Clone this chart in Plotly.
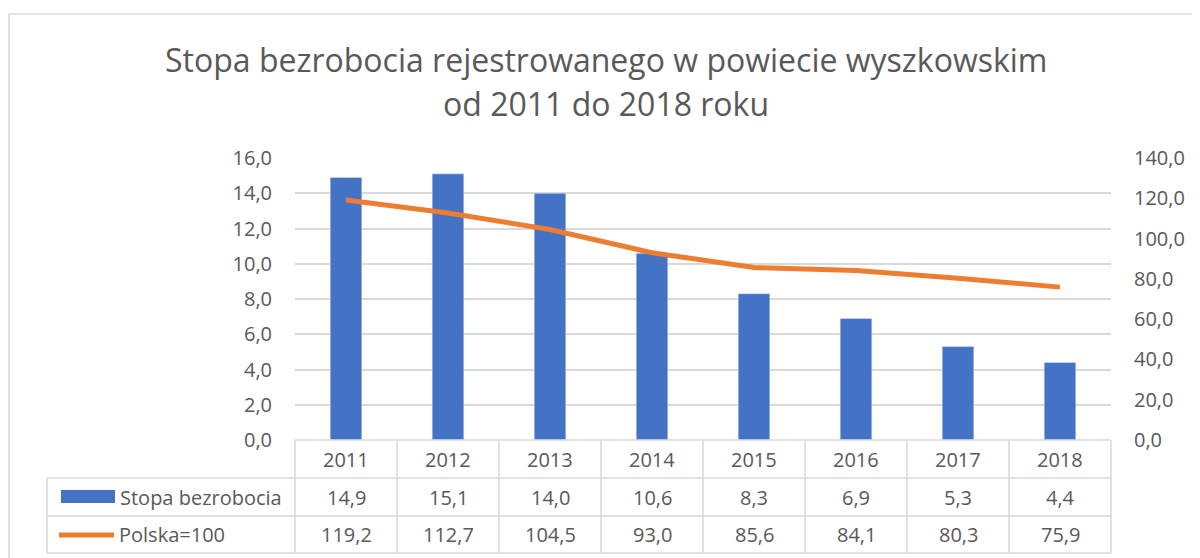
import plotly.graph_objects as go

years = ["2011", "2012", "2013", "2014", "2015", "2016", "2017", "2018"]
stopa = [14.9, 15.1, 14.0, 10.6, 8.3, 6.9, 5.3, 4.4]
polska = [119.2, 112.7, 104.5, 93.0, 85.6, 84.1, 80.3, 75.9]
series_names = ["Stopa bezrobocia", "Polska=100"]
title_lines = ["Stopa bezrobocia rejestrowanego w powiecie wyszkowskim", "od 2011 do 2018 roku"]

OFF = 8  # page body margin
W, H = 1200 - OFF, 558 - OFF
FONT = "Open Sans"
TXT = "#595959"
GRID = "#D9D9D9"
BLUE = "#4472C4"
ORANGE = "#ED7D31"
FS = 20

def px(x):
    return (x - OFF) / W

def py(y):
    return 1 - (y - OFF) / H

X0, X1 = 295, 1111
Y_TOP, Y_BOT = 158, 440
ROW = [440, 478, 516, 553]
TBL_LEFT = 47

def fmt(v):
    return f"{v:.1f}".replace(".", ",")

fig = go.Figure()
fig.add_trace(go.Bar(x=years, y=stopa, name=series_names[0], marker_color=BLUE,
                     width=0.31, yaxis="y"))
fig.add_trace(go.Scatter(x=years, y=polska, name=series_names[1], mode="lines",
                         line=dict(color=ORANGE, width=5), yaxis="y2"))

shapes = []
shapes.append(dict(type="rect", xref="paper", yref="paper", x0=px(9), x1=1.02,
                   y0=-0.02, y1=py(14), line=dict(color=GRID, width=1.5)))
shapes.append(dict(type="line", xref="paper", yref="paper", x0=px(X0), x1=px(X1),
                   y0=py(ROW[0]), y1=py(ROW[0]), line=dict(color=GRID, width=1.5)))
for r in ROW[1:]:
    shapes.append(dict(type="line", xref="paper", yref="paper", x0=px(TBL_LEFT), x1=px(X1),
                       y0=py(r), y1=py(r), line=dict(color=GRID, width=1.5)))
colw = (X1 - X0) / len(years)
for i in range(len(years) + 1):
    xx = X0 + i * colw
    shapes.append(dict(type="line", xref="paper", yref="paper", x0=px(xx), x1=px(xx),
                       y0=py(ROW[0]), y1=py(ROW[3]), line=dict(color=GRID, width=1.5)))
shapes.append(dict(type="line", xref="paper", yref="paper", x0=px(TBL_LEFT), x1=px(TBL_LEFT),
                   y0=py(ROW[1]), y1=py(ROW[3]), line=dict(color=GRID, width=1.5)))
shapes.append(dict(type="rect", xref="paper", yref="paper", x0=px(61), x1=px(115),
                   y0=py(503), y1=py(490), fillcolor=BLUE, line=dict(width=0)))
shapes.append(dict(type="line", xref="paper", yref="paper", x0=px(59), x1=px(114),
                   y0=py(535), y1=py(535), line=dict(color=ORANGE, width=5)))

annotations = []
for ln, yy in zip(title_lines, [60, 103]):
    annotations.append(dict(text=ln, xref="paper", yref="paper", x=px(606), y=py(yy),
                            xanchor="center", yanchor="middle", showarrow=False,
                            font=dict(family=FONT, size=32, color=TXT)))
rows_y = [(ROW[i] + ROW[i + 1]) / 2 for i in range(3)]
for i, yr in enumerate(years):
    for txt, ry in zip([yr, fmt(stopa[i]), fmt(polska[i])], rows_y):
        annotations.append(dict(text=txt, x=i, xref="x", yref="paper", y=py(ry),
                                xanchor="center", yanchor="middle", showarrow=False,
                                font=dict(family=FONT, size=FS, color=TXT)))
annotations.append(dict(text=series_names[0], xref="paper", yref="paper", x=px(118), y=py(rows_y[1]),
                        xanchor="left", yanchor="middle", showarrow=False,
                        font=dict(family=FONT, size=FS, color=TXT)))
annotations.append(dict(text=series_names[1], xref="paper", yref="paper", x=px(117), y=py(rows_y[2]),
                        xanchor="left", yanchor="middle", showarrow=False,
                        font=dict(family=FONT, size=FS, color=TXT)))

fig.update_layout(
    width=W, height=H,
    margin=dict(l=0, r=0, t=0, b=0, autoexpand=False),
    paper_bgcolor="white", plot_bgcolor="white",
    separators=", ",
    showlegend=False,
    font=dict(family=FONT, color=TXT, size=FS),
    xaxis=dict(domain=[px(X0), px(X1)], type="category", range=[-0.5, len(years) - 0.5],
               showticklabels=False, showgrid=False, zeroline=False, showline=False, ticks=""),
    yaxis=dict(domain=[py(Y_BOT), py(Y_TOP)], range=[0, 16], dtick=2, tickformat=".1f",
               showgrid=True, gridcolor=GRID, gridwidth=1.5, zeroline=False, showline=False,
               ticklabelstandoff=22, tickfont=dict(size=FS, color=TXT), automargin=False),
    yaxis2=dict(domain=[py(Y_BOT), py(Y_TOP)], range=[0, 140], dtick=20, tickformat=".1f",
                overlaying="y", side="right", showgrid=False, zeroline=False, showline=False,
                ticklabelstandoff=22, tickfont=dict(size=FS, color=TXT), automargin=False),
    shapes=shapes,
    annotations=annotations,
)

fig.write_html("out.html")
